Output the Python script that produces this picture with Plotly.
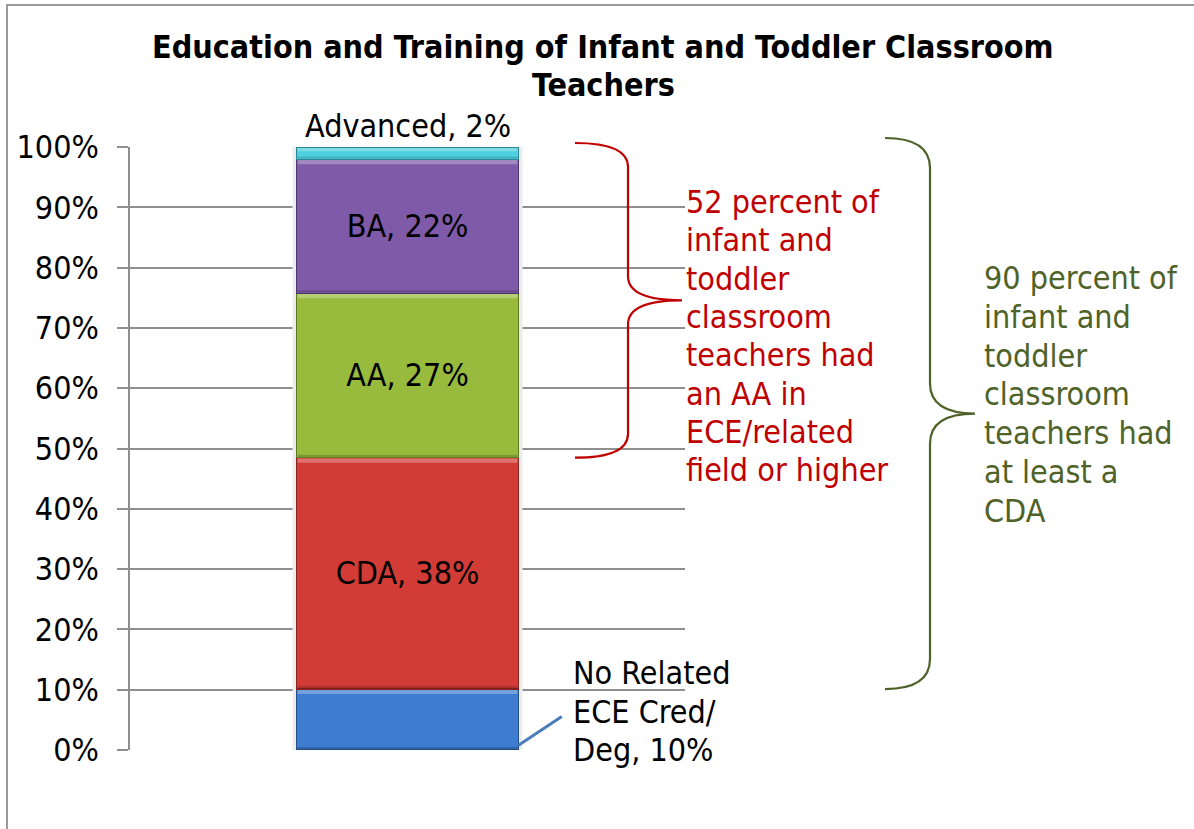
import plotly.graph_objects as go

# ---------------- data ----------------
categories = ["No Related ECE Cred/Deg", "CDA", "AA", "BA", "Advanced"]
short_labels = ["No Related ECE Cred/ Deg", "CDA", "AA", "BA", "Advanced"]
values = [10, 38, 27, 22, 2]
colors = ["#3d7ccf", "#d33c36", "#98bb3e", "#7f5aa8", "#4dcfe0"]
edge_colors = ["#24508a", "#8a2420", "#5e7a1f", "#4d3570", "#2a8793"]
inside_label = [False, True, True, True, False]
y_ticks = [0, 10, 20, 30, 40, 50, 60, 70, 80, 90, 100]
y_ticklabels = [f"{t}%" for t in y_ticks]

title_lines = ["Education and Training of Infant and Toddler Classroom", "Teachers"]
no_related_lines = ["No Related", "ECE Cred/", f"Deg, {values[0]}%"]
red_note_lines = ["52 percent of", "infant and", "toddler", "classroom", "teachers had",
                  "an AA in", "ECE/related", "field or higher"]
green_note_lines = ["90 percent of", "infant and", "toddler", "classroom", "teachers had",
                    "at least a", "CDA"]

# ---------------- layout geometry (pixels) ----------------
W_PX, H_PX = 1194, 829
L, R, T, B = 130, 685, 147, 750
FONT = "DejaVu Sans Condensed, DejaVu Sans, sans-serif"
GRID = "#8f8f8f"
RED = "#c00000"
GREEN = "#4f6228"
BAR_W = 0.4


def PX(px):
    return (px - L) / (R - L)


def PY(py):
    return (B - py) / (B - T)


px_per_unit_y = (B - T) / 100.0
px_per_unit_x = (R - L) / 1.0

total = sum(values)
norm = [v * 100.0 / total for v in values]
cum = [sum(norm[:i]) for i in range(len(norm) + 1)]

fig = go.Figure()
for i, (cat, v) in enumerate(zip(categories, values)):
    fig.add_trace(go.Bar(
        x=[0], y=[v], name=cat, width=BAR_W,
        marker=dict(color=colors[i], line=dict(color=edge_colors[i], width=1.2)),
        text=[f"{short_labels[i]}, {v}%"] if inside_label[i] else [""],
        textposition="inside", insidetextanchor="middle", textangle=0,
        textfont=dict(family=FONT, size=32, color="black"),
        hoverinfo="skip", showlegend=False,
    ))

fig.update_layout(
    barmode="stack", barnorm="percent",
    width=W_PX, height=H_PX, autosize=False,
    margin=dict(l=L, r=W_PX - R, t=T, b=H_PX - B, pad=0),
    paper_bgcolor="white", plot_bgcolor="white",
    font=dict(family=FONT, size=32, color="black"),
    xaxis=dict(range=[-0.5, 0.5], showgrid=False, zeroline=False, showticklabels=False,
               ticks="", showline=False, fixedrange=True),
    yaxis=dict(range=[0, 100], tickvals=y_ticks, ticktext=y_ticklabels,
               showgrid=True, gridcolor=GRID, gridwidth=1.5, zeroline=False,
               showline=True, linecolor=GRID, linewidth=1.5,
               ticks="outside", ticklen=11, tickcolor=GRID, tickwidth=1.5,
               ticklabelstandoff=12,
               tickfont=dict(family=FONT, size=32, color="black"), fixedrange=True),
)

annotations = []


def add_lines(lines, x_px, y_first, spacing, color, size, xanchor="left", bold=False):
    for k, line in enumerate(lines):
        txt = f"<b>{line}</b>" if bold else line
        annotations.append(dict(text=txt, xref="paper", yref="paper",
                                x=PX(x_px), y=PY(y_first + k * spacing),
                                xanchor=xanchor, yanchor="middle", align="left",
                                showarrow=False, font=dict(family=FONT, size=size, color=color)))


# title
add_lines(title_lines, 603, 47, 38, "black", 32, xanchor="center", bold=True)
# Advanced label above bar
annotations.append(dict(text=f"{short_labels[4]}, {values[4]}%", xref="x", yref="y",
                        x=0, y=cum[5], xanchor="center", yanchor="bottom", yshift=0,
                        showarrow=False, font=dict(family=FONT, size=32, color="black")))
# No related label
add_lines(no_related_lines, 571, 673, 38.5, "black", 32)
# notes
add_lines(red_note_lines, 684, 202, 38.3, RED, 32)
add_lines(green_note_lines, 982, 278, 38.8, GREEN, 32)
fig.update_layout(annotations=annotations)


def brace_path(x0, x1, x2, ytop, ybot, ry):
    ym = (ytop + ybot) / 2
    return (f"M {x0},{ytop} Q {x1},{ytop} {x1},{ytop - ry} "
            f"L {x1},{ym + ry} Q {x1},{ym} {x2},{ym} "
            f"Q {x1},{ym} {x1},{ym - ry} "
            f"L {x1},{ybot + ry} Q {x1},{ybot} {x0},{ybot}")


shapes = []
# soft shadow behind the bar
sh = 4 / px_per_unit_x
shapes.append(dict(type="rect", xref="x", yref="y", layer="between",
                   x0=-BAR_W / 2 - sh, x1=BAR_W / 2 + sh, y0=cum[0], y1=cum[-1],
                   fillcolor="#ececec", line=dict(width=0)))
# bevel highlights / shading on each segment
hi = 5 / px_per_unit_y
lo = 3 / px_per_unit_y
for i in range(len(values)):
    seg_h = cum[i + 1] - cum[i]
    shapes.append(dict(type="rect", xref="x", yref="y", layer="above",
                       x0=-BAR_W / 2 + 0.002, x1=BAR_W / 2 - 0.002,
                       y0=cum[i + 1] - min(hi, seg_h * 0.35), y1=cum[i + 1] - 0.15,
                       fillcolor="rgba(255,255,255,0.28)", line=dict(width=0)))
    shapes.append(dict(type="rect", xref="x", yref="y", layer="above",
                       x0=-BAR_W / 2 + 0.002, x1=BAR_W / 2 - 0.002,
                       y0=cum[i] + 0.1, y1=cum[i] + min(lo, seg_h * 0.2),
                       fillcolor="rgba(0,0,0,0.18)", line=dict(width=0)))
# red brace: AA and higher
shapes.append(dict(type="path", xref="paper", yref="paper",
                   path=brace_path(PX(575), PX(628), PX(682),
                                   cum[5] / 100 + 4 / (B - T), cum[2] / 100, 24 / (B - T)),
                   line=dict(color=RED, width=2.2)))
# green brace: CDA and higher
shapes.append(dict(type="path", xref="paper", yref="paper",
                   path=brace_path(PX(885), PX(930), PX(975),
                                   cum[5] / 100 + 9 / (B - T), cum[1] / 100, 30 / (B - T)),
                   line=dict(color=GREEN, width=2.2)))
# leader line for the "No Related" label
shapes.append(dict(type="line", xref="x", yref="y",
                   x0=BAR_W / 2, y0=cum[0] + 0.8, x1=0.278, y1=cum[1] * 0.55,
                   line=dict(color="#4a7ebb", width=3)))
# outer chart border
shapes.append(dict(type="rect", xref="paper", yref="paper",
                   x0=PX(7), y0=PY(5), x1=PX(1210), y1=PY(850),
                   line=dict(color="#9a9a9a", width=2), fillcolor="rgba(0,0,0,0)", layer="below"))
fig.update_layout(shapes=shapes)

fig.write_html("out.html", config={"displayModeBar": False},
               post_script="document.body.style.margin='0';")
